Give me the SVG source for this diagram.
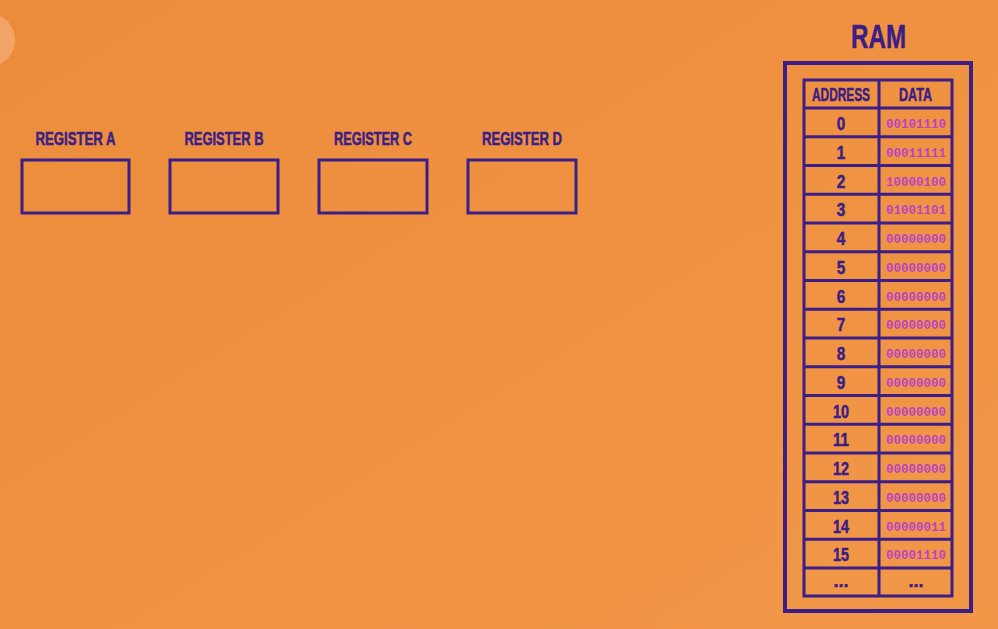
<svg xmlns="http://www.w3.org/2000/svg" width="998" height="629" viewBox="0 0 998 629">
<defs>
<linearGradient id="bg" x1="0" y1="0" x2="1" y2="1">
<stop offset="0" stop-color="#EC8C3B"/>
<stop offset="1" stop-color="#F29748"/>
</linearGradient>
</defs>
<style>
.lbl{font-family:"Liberation Sans",Arial,sans-serif;font-weight:bold;fill:#3B1E86;stroke:#3B1E86;stroke-width:0.5;text-anchor:middle}
.box{fill:none;stroke:#3B1E86;stroke-width:3}
.tbl{fill:none;stroke:#3B1E86;stroke-width:3}
.data{font-family:"Liberation Mono","Courier New",monospace;font-weight:bold;font-size:12.5px;fill:#B944C6;text-anchor:middle}
</style>
<rect x="0" y="0" width="998" height="629" fill="url(#bg)"/>
<circle cx="-12" cy="40" r="27" fill="#FFFFFF" opacity="0.22"/>
<g id="connectors"/>
<g id="register-a">
<text class="lbl" x="75.5" y="145" font-size="17.5" textLength="80" lengthAdjust="spacingAndGlyphs">REGISTER A</text>
<rect class="box" x="22" y="160" width="107" height="53"/>
</g>
<g id="register-b">
<text class="lbl" x="224" y="145" font-size="17.5" textLength="79" lengthAdjust="spacingAndGlyphs">REGISTER B</text>
<rect class="box" x="170" y="160" width="108" height="53"/>
</g>
<g id="register-c">
<text class="lbl" x="373" y="145" font-size="17.5" textLength="78" lengthAdjust="spacingAndGlyphs">REGISTER C</text>
<rect class="box" x="319" y="160" width="108" height="53"/>
</g>
<g id="register-d">
<text class="lbl" x="522" y="145" font-size="17.5" textLength="80" lengthAdjust="spacingAndGlyphs">REGISTER D</text>
<rect class="box" x="468" y="160" width="108" height="53"/>
</g>
<g id="ram">
<text class="lbl" x="878.5" y="48" font-size="33.5" textLength="55" lengthAdjust="spacingAndGlyphs">RAM</text>
<rect x="785" y="63" width="186" height="548" fill="none" stroke="#3B1E86" stroke-width="4"/>
<g id="ram-table">
<rect class="tbl" x="804" y="80" width="148" height="516"/>
<line class="tbl" x1="879" y1="80" x2="879" y2="596"/>
<path class="tbl" d="M804 108H952M804 136.75H952M804 165.5H952M804 194.25H952M804 223H952M804 251.75H952M804 280.5H952M804 309.25H952M804 338H952M804 366.75H952M804 395.5H952M804 424.25H952M804 453H952M804 481.75H952M804 510.5H952M804 539.25H952M804 568H952"/>
<text class="lbl" x="841" y="101" font-size="18" textLength="58" lengthAdjust="spacingAndGlyphs">ADDRESS</text>
<text class="lbl" x="915.5" y="101" font-size="18" textLength="33" lengthAdjust="spacingAndGlyphs">DATA</text>
</g>
<g id="ram-addresses" class="lbl" font-size="18">
<text x="841" y="130" textLength="8.5" lengthAdjust="spacingAndGlyphs">0</text>
<text x="841" y="158.75" textLength="8.5" lengthAdjust="spacingAndGlyphs">1</text>
<text x="841" y="187.5" textLength="8.5" lengthAdjust="spacingAndGlyphs">2</text>
<text x="841" y="216.25" textLength="8.5" lengthAdjust="spacingAndGlyphs">3</text>
<text x="841" y="245" textLength="8.5" lengthAdjust="spacingAndGlyphs">4</text>
<text x="841" y="273.75" textLength="8.5" lengthAdjust="spacingAndGlyphs">5</text>
<text x="841" y="302.5" textLength="8.5" lengthAdjust="spacingAndGlyphs">6</text>
<text x="841" y="331.25" textLength="8.5" lengthAdjust="spacingAndGlyphs">7</text>
<text x="841" y="360" textLength="8.5" lengthAdjust="spacingAndGlyphs">8</text>
<text x="841" y="388.75" textLength="8.5" lengthAdjust="spacingAndGlyphs">9</text>
<text x="841" y="417.5" textLength="16" lengthAdjust="spacingAndGlyphs">10</text>
<text x="841" y="446.25" textLength="16" lengthAdjust="spacingAndGlyphs">11</text>
<text x="841" y="475" textLength="16" lengthAdjust="spacingAndGlyphs">12</text>
<text x="841" y="503.75" textLength="16" lengthAdjust="spacingAndGlyphs">13</text>
<text x="841" y="532.5" textLength="16" lengthAdjust="spacingAndGlyphs">14</text>
<text x="841" y="561.25" textLength="16" lengthAdjust="spacingAndGlyphs">15</text>
<text x="841" y="587">...</text>
</g>
<g id="ram-data">
<text class="data" x="916" y="128">00101110</text>
<text class="data" x="916" y="156.75">00011111</text>
<text class="data" x="916" y="185.5">10000100</text>
<text class="data" x="916" y="214.25">01001101</text>
<text class="data" x="916" y="243">00000000</text>
<text class="data" x="916" y="271.75">00000000</text>
<text class="data" x="916" y="300.5">00000000</text>
<text class="data" x="916" y="329.25">00000000</text>
<text class="data" x="916" y="358">00000000</text>
<text class="data" x="916" y="386.75">00000000</text>
<text class="data" x="916" y="415.5">00000000</text>
<text class="data" x="916" y="444.25">00000000</text>
<text class="data" x="916" y="473">00000000</text>
<text class="data" x="916" y="501.75">00000000</text>
<text class="data" x="916" y="530.5">00000011</text>
<text class="data" x="916" y="559.25">00001110</text>
<text class="lbl" x="916" y="587" font-size="18">...</text>
</g>
</g>
</svg>
